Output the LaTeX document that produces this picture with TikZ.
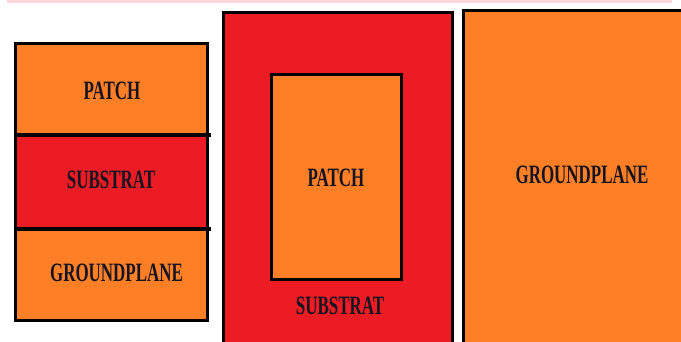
\documentclass[tikz,border=0pt]{standalone}
\usepackage{fontspec}
\newfontfamily\labelfont[FakeStretch=0.64]{Liberation Serif Bold}
\definecolor{porange}{HTML}{FF7F27}
\definecolor{pred}{HTML}{ED1C24}
\definecolor{ppink}{HTML}{FFD6DA}
\definecolor{ptext}{HTML}{141420}
\begin{document}
\begin{tikzpicture}[x=1pt,y=-1pt,
  box/.style={draw=black, line width=3pt, rectangle, inner sep=0pt, outer sep=0pt},
  lbl/.style={inner sep=0pt, font=\labelfont\fontsize{26.5}{27}\selectfont, text=ptext},
  divider/.style={draw=black, line width=4.5pt}]
\useasboundingbox (0,0) rectangle (681,342);
\fill[ppink] (7,0) rectangle (672,3);
% middle substrate with patch
\node[box, fill=pred, minimum width=229pt, minimum height=340pt, anchor=north west] (subB) at (223.5,12.5) {};
\node[box, fill=porange, minimum width=130pt, minimum height=205.5pt] (patchB) at (336.5,177.25) {};
\node[lbl] (patchBlabel) at (336,178) {PATCH};
\node[lbl] (subBlabel) at (340,306) {SUBSTRAT};
% right groundplane
\node[box, fill=porange, minimum width=240pt, minimum height=345pt, anchor=north west] (gndC) at (463.5,11) {};
\node[lbl] (gndClabel) at (582,175) {GROUNDPLANE};
% left stack
\node[box, fill=porange, minimum width=192pt, minimum height=91.5pt, anchor=north west] (patchA) at (15.5,43.5) {};
\node[box, fill=pred, minimum width=192pt, minimum height=94pt, anchor=north west] (subA) at (15.5,135) {};
\node[box, fill=porange, minimum width=192pt, minimum height=91.5pt, anchor=north west] (gndA) at (15.5,229) {};
\node[lbl] (patchAlabel) at (112,91) {PATCH};
\node[lbl] (subAlabel) at (111,180) {SUBSTRAT};
\node[lbl] (gndAlabel) at (116.5,273) {GROUNDPLANE};
\draw[divider] ([xshift=-1pt]subA.north west) -- ([xshift=3.5pt]subA.north east);
\draw[divider] ([xshift=-1pt]subA.south west) -- ([xshift=3.5pt]subA.south east);
\end{tikzpicture}
\end{document}
